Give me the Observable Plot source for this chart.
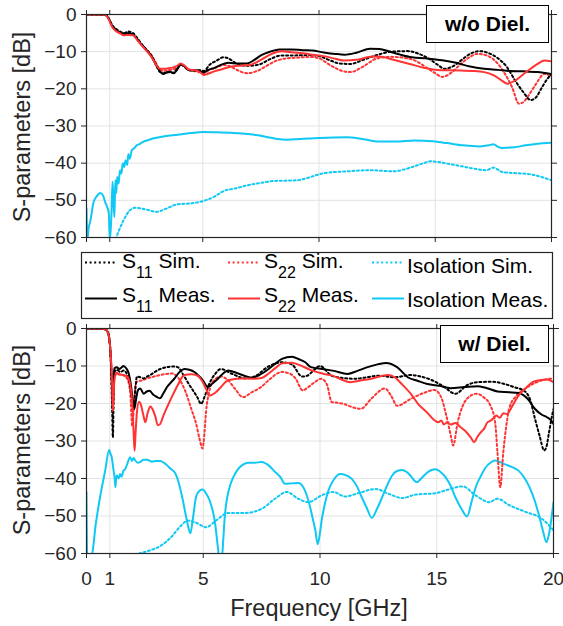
<!DOCTYPE html>
<html>
<head>
<meta charset="utf-8">
<script src="https://cdn.jsdelivr.net/npm/d3@7"></script>
<script src="https://cdn.jsdelivr.net/npm/@observablehq/plot@0.6"></script>
<style>
  body { margin: 0; background: #fff; }
  #wrap { position: relative; width: 563px; height: 626px; background: #fff;
          font-family: 'Liberation Sans', Arial, Helvetica, sans-serif; color: #262626; }
  .abs { position: absolute; }
  .tag { position: absolute; box-sizing: border-box; border: 1.5px solid #000; background: #fff;
         font-weight: bold; font-size: 21px; color: #000; display: flex; align-items: center; justify-content: center; }
  .ylab { position: absolute; font-size: 23.5px; white-space: nowrap; line-height: 1;
          transform: translate(-50%, -50%) rotate(-90deg); color: #262626; }
  .xlab { position: absolute; font-size: 23.5px; white-space: nowrap; line-height: 1;
          transform: translateX(-50%); color: #262626; }
</style>
</head>
<body>
<div id="wrap">
  <div id="topPanel" class="abs" style="left:0;top:0"></div>
  <div id="botPanel" class="abs" style="left:0;top:320px"></div>
  <div id="legend" class="abs" style="left:81px;top:252px"></div>
  <div class="tag" style="left:426px;top:5px;width:123px;height:38px">w/o Diel.</div>
  <div class="tag" style="left:440px;top:325px;width:109px;height:38px">w/ Diel.</div>
  <div class="ylab" style="left:23px;top:127px">S-parameters [dB]</div>
  <div class="ylab" style="left:23px;top:440px">S-parameters [dB]</div>
  <div class="xlab" style="left:319px;top:597px">Frequency [GHz]</div>
</div>
<script>
// ---------- tick values ----------
const xTicks = [0, 1, 5, 10, 15, 20];
const yTicks = [-60, -50, -40, -30, -20, -10, 0];

// ---------- series: [frequency GHz, dB] ----------
// Top panel: without dielectric
const topS11Sim = [[0,0],[0.5,0],[0.8,-0.1],[0.95,-1],[1.1,-2.8],[1.25,-3.8],[1.45,-4.6],[1.6,-5.0],[1.8,-4.6],[2.0,-5.0],[2.2,-6.5],[2.4,-8.2],[2.6,-9.6],[2.8,-11.2],[3.0,-13.8],[3.15,-15.4],[3.3,-15.8],[3.5,-15.5],[3.7,-15.7],[3.9,-14.6],[4.05,-13.4],[4.2,-14.0],[4.4,-14.9],[4.7,-15.0],[4.9,-15.0],[5.05,-15.2],[5.3,-13.5],[5.6,-12.4],[5.9,-11.5],[6.1,-11.8],[6.4,-13.0],[6.9,-13.8],[7.4,-13.5],[7.9,-12.0],[8.4,-11.0],[9.0,-11.0],[9.6,-10.9],[10.0,-11.2],[10.5,-12.4],[10.9,-13.2],[11.35,-13.3],[11.9,-12.2],[12.5,-10.9],[13.1,-10.0],[13.8,-9.85],[14.3,-10.6],[14.7,-11.8],[15.1,-13.5],[15.4,-14.6],[15.8,-13.8],[16.1,-12.4],[16.5,-10.6],[16.9,-9.85],[17.3,-10.4],[17.7,-11.8],[18.1,-14.3],[18.4,-17.4],[18.8,-21.0],[19.1,-23.0],[19.3,-22.5],[19.6,-19.5],[19.8,-17.5],[20,-16.1]];
const topS11Meas = [[0,0],[0.5,0],[0.8,-0.1],[0.95,-1],[1.1,-3],[1.25,-4],[1.45,-4.9],[1.6,-5.2],[1.8,-5.0],[2.0,-5.4],[2.2,-6.8],[2.4,-8.3],[2.6,-9.7],[2.8,-11.3],[3.0,-13.5],[3.15,-15.2],[3.3,-16.0],[3.45,-15.6],[3.6,-15.4],[3.75,-15.8],[3.9,-14.8],[4.05,-13.5],[4.2,-13.8],[4.35,-14.8],[4.55,-15.1],[4.75,-15.0],[4.9,-15.3],[5.05,-15.6],[5.2,-15.0],[5.5,-14.4],[5.8,-13.5],[6.1,-13.0],[6.5,-13.2],[6.9,-13.2],[7.2,-12.3],[7.5,-11.0],[7.9,-10.0],[8.3,-9.4],[8.8,-9.4],[9.3,-9.6],[9.7,-9.7],[10.2,-10.2],[10.7,-10.6],[11.1,-10.8],[11.6,-10.3],[12.2,-9.2],[12.6,-9.3],[13.0,-9.9],[13.5,-10.8],[14.0,-11.5],[14.6,-11.8],[15.3,-12.3],[15.9,-13.0],[16.5,-14.0],[17.1,-14.6],[17.7,-14.9],[18.2,-15.2],[18.8,-15.3],[19.4,-15.5],[20,-16.0]];
const topS22Sim = [[0,0],[0.5,0],[0.8,-0.1],[0.95,-1.1],[1.1,-3.1],[1.25,-4.2],[1.45,-5.0],[1.6,-5.4],[1.8,-5.2],[2.0,-5.3],[2.2,-6.7],[2.4,-8.3],[2.6,-9.6],[2.8,-11.0],[3.0,-13.2],[3.15,-14.8],[3.3,-15.2],[3.5,-15.0],[3.7,-14.8],[3.9,-14.2],[4.05,-13.5],[4.2,-13.9],[4.4,-14.8],[4.7,-15.3],[4.9,-15.6],[5.05,-15.8],[5.3,-14.8],[5.6,-14.2],[5.9,-13.6],[6.2,-14.0],[6.5,-15.0],[6.9,-15.8],[7.3,-15.3],[7.7,-14.0],[8.1,-12.6],[8.6,-11.8],[9.1,-11.6],[9.6,-11.4],[10.0,-11.8],[10.5,-13.7],[11.0,-15.2],[11.35,-15.5],[11.9,-14.0],[12.5,-11.8],[13.1,-11.4],[13.8,-11.8],[14.2,-12.6],[14.6,-14.2],[15.0,-15.8],[15.3,-16.8],[15.7,-15.6],[16.1,-13.3],[16.5,-11.4],[16.8,-10.6],[17.2,-11.0],[17.7,-13.3],[18.0,-16.0],[18.3,-19.5],[18.6,-24.0],[18.8,-23.5],[19.0,-21.9],[19.3,-19.0],[19.7,-16.0],[20,-16.8]];
const topS22Meas = [[0,0],[0.5,0],[0.8,-0.1],[0.95,-1.2],[1.1,-3.3],[1.25,-4.4],[1.45,-5.1],[1.6,-5.6],[1.8,-5.5],[2.0,-5.6],[2.2,-7.0],[2.4,-8.5],[2.6,-9.9],[2.8,-11.5],[3.0,-13.6],[3.15,-14.6],[3.3,-14.6],[3.5,-14.5],[3.7,-14.3],[3.85,-14.0],[4.05,-13.2],[4.2,-13.7],[4.4,-14.8],[4.7,-15.0],[4.9,-15.6],[5.05,-16.3],[5.2,-16.0],[5.5,-15.3],[5.8,-14.8],[6.1,-14.2],[6.5,-13.8],[7.0,-13.6],[7.5,-12.2],[8.0,-10.5],[8.4,-9.9],[8.9,-10.2],[9.3,-10.4],[9.7,-10.8],[10.2,-11.2],[10.7,-11.9],[11.1,-12.4],[11.6,-12.2],[12.2,-11.4],[12.6,-11.3],[13.2,-12.2],[13.9,-13.3],[14.5,-14.3],[15.1,-14.9],[15.6,-15.0],[16.1,-15.1],[16.6,-15.2],[17.1,-15.5],[17.5,-16.3],[17.8,-17.5],[18.1,-18.6],[18.5,-17.5],[18.8,-16.0],[19.1,-14.6],[19.4,-13.3],[19.7,-12.4],[20,-12.6]];
const topIsoSim = [[1.25,-60.5],[1.59,-55.4],[1.85,-52.8],[2.1,-52.0],[2.59,-52.5],[3.02,-53.1],[3.4,-52.3],[3.9,-51.1],[4.5,-50.8],[5.02,-50.2],[5.5,-49],[5.9,-47.5],[6.4,-46.8],[6.9,-46],[7.5,-45.3],[8.05,-44.8],[9.06,-44.6],[9.6,-43.8],[10.2,-42.7],[11.2,-42.2],[12.2,-41.9],[13.2,-42.2],[13.6,-41.8],[14.08,-40.9],[14.5,-40],[14.8,-39.5],[15.5,-40.1],[16.1,-40.8],[16.7,-41.5],[17.2,-41.9],[17.5,-41.2],[17.9,-42.4],[18.5,-42.7],[19.1,-43.0],[19.5,-43.6],[20,-44.6]];
const topIsoMeas = [[0,-52.2],[0.04,-60.5],[0.08,-58],[0.17,-55.4],[0.3,-50.6],[0.45,-48.8],[0.6,-48.0],[0.72,-48.8],[0.8,-50.4],[0.9,-52],[0.96,-53.5],[1.0,-60.5],[1.04,-58],[1.08,-52.7],[1.12,-45],[1.16,-50],[1.2,-54.5],[1.24,-44.6],[1.28,-48],[1.32,-43.7],[1.38,-45.5],[1.44,-41.9],[1.5,-42.8],[1.56,-40],[1.62,-41],[1.68,-39.2],[1.75,-40.5],[1.8,-37.5],[1.86,-38.8],[1.95,-36.5],[2.05,-36],[2.16,-35.2],[2.3,-34.8],[2.45,-34.2],[2.6,-33.9],[2.9,-33.3],[3.3,-32.8],[3.7,-32.5],[4.0,-32.3],[4.5,-31.9],[5.0,-31.6],[5.6,-31.7],[6.2,-31.8],[6.8,-32.1],[7.3,-32.4],[7.8,-33.0],[8.2,-33.5],[8.6,-33.7],[9.2,-33.5],[10.0,-33.2],[11.2,-33.0],[11.8,-33.4],[12.6,-34.2],[13.3,-34.2],[14.1,-33.9],[14.9,-34.1],[15.5,-34.6],[16.2,-35.2],[16.9,-35.5],[17.3,-35.2],[17.5,-34.9],[17.7,-35.6],[17.9,-35.9],[18.4,-35.7],[18.9,-35.2],[19.4,-34.8],[20,-34.5]];

// Bottom panel: with dielectric
const botS11Sim = [[0,0],[0.5,0],[0.8,-0.2],[0.9,-0.8],[0.97,-2.5],[1.02,-6],[1.06,-12],[1.1,-22],[1.13,-29],[1.16,-20],[1.2,-11.6],[1.3,-11.0],[1.45,-11.6],[1.6,-11.2],[1.75,-12.5],[1.87,-15.5],[1.95,-19],[2.02,-21],[2.08,-17],[2.16,-12.8],[2.3,-13.0],[2.45,-13.3],[2.6,-12.8],[2.73,-12.4],[2.95,-11.5],[3.16,-10.8],[3.45,-10.3],[3.7,-10.1],[3.9,-10.3],[4.19,-12.8],[4.4,-15],[4.55,-16.4],[4.75,-18.4],[4.91,-20.1],[5.05,-18.3],[5.26,-14.7],[5.5,-12.2],[5.76,-10.8],[6.2,-12.0],[6.8,-13.3],[7.2,-12.8],[7.8,-10.1],[8.37,-9.0],[8.8,-9.6],[9.23,-12.8],[9.45,-12.6],[9.66,-11.6],[10.0,-10.0],[10.5,-12.6],[11.0,-13.2],[11.5,-13.4],[12.0,-13.0],[12.5,-12.6],[13.2,-13.0],[13.9,-12.4],[14.3,-12.8],[14.8,-13.8],[15.3,-15.5],[15.8,-17.4],[16.3,-15.1],[16.8,-14.3],[17.4,-14.2],[17.9,-14.8],[18.3,-15.6],[18.8,-16.9],[19.0,-19],[19.2,-23.9],[19.4,-28.5],[19.6,-32.5],[19.7,-31.5],[19.8,-28],[19.95,-22.9],[20,-21.5]];
const botS11Meas = [[0,0],[0.5,0],[0.8,-0.2],[0.9,-0.8],[0.97,-2.5],[1.02,-5.5],[1.06,-10],[1.1,-17],[1.13,-21.5],[1.16,-14],[1.2,-10.6],[1.3,-10.3],[1.4,-10.8],[1.5,-10.4],[1.58,-10.0],[1.7,-10.6],[1.8,-11.8],[1.9,-15],[1.97,-18.5],[2.05,-21.4],[2.12,-19],[2.2,-16.5],[2.3,-16.0],[2.45,-17.4],[2.58,-16.8],[2.7,-16.6],[2.85,-17.6],[3.0,-18.2],[3.14,-18.6],[3.3,-17.2],[3.45,-15.6],[3.6,-14.5],[3.76,-13.4],[4.0,-11.5],[4.19,-10.8],[4.4,-11.0],[4.62,-11.6],[4.8,-12.6],[4.98,-13.8],[5.1,-15.0],[5.2,-15.6],[5.4,-14.6],[5.63,-13.4],[5.85,-12.0],[6.06,-11.2],[6.5,-12.0],[7.08,-13.1],[7.4,-12.4],[7.8,-10.8],[8.1,-9.3],[8.37,-8.1],[8.8,-7.5],[9.1,-8.2],[9.37,-9.0],[9.61,-10.3],[10.1,-10.8],[10.6,-11.3],[11.18,-12.1],[11.6,-11.3],[12.04,-10.3],[12.5,-9.5],[12.83,-9.2],[13.3,-10.3],[13.76,-13.0],[14.2,-14.0],[14.6,-14.8],[15.1,-15.3],[15.6,-15.9],[16.2,-15.6],[16.77,-15.4],[17.2,-16.0],[17.6,-16.8],[18.1,-17.0],[18.5,-17.2],[18.9,-18.8],[19.2,-21.4],[19.5,-23.0],[19.7,-23.6],[19.9,-24.5],[20,-25.5]];
const botS22Sim = [[0,0],[0.5,0],[0.8,-0.2],[0.9,-0.8],[0.97,-2.5],[1.02,-6],[1.06,-11],[1.1,-16],[1.14,-14],[1.2,-12.5],[1.35,-12.2],[1.58,-12.5],[1.75,-13.5],[1.87,-17],[1.96,-26],[2.02,-22],[2.1,-15],[2.16,-14.2],[2.4,-13.8],[2.6,-13.3],[2.9,-12.8],[3.16,-12.4],[3.66,-12.0],[3.85,-12.6],[4.04,-14.2],[4.25,-17],[4.48,-21.3],[4.7,-25.5],[4.84,-29.4],[4.97,-32],[5.05,-28],[5.12,-22.2],[5.25,-17],[5.4,-14.3],[5.76,-12.8],[6.06,-13.8],[6.35,-16],[6.7,-18.3],[7.08,-17],[7.5,-15.5],[7.8,-13.8],[8.37,-11.6],[8.7,-12],[8.95,-13.3],[9.26,-16.5],[9.5,-15.6],[9.8,-14.2],[10.05,-13.4],[10.3,-15],[10.5,-19.6],[10.75,-19.8],[11.0,-20.1],[11.4,-21],[11.75,-21.4],[12.2,-18.7],[12.78,-16],[13.05,-18],[13.3,-20.6],[13.9,-18.7],[14.4,-17.3],[14.9,-16.4],[15.2,-18.5],[15.4,-23],[15.6,-28.5],[15.7,-31.2],[15.9,-24.9],[16.3,-18.7],[16.7,-17.4],[17.0,-18.3],[17.3,-20.6],[17.5,-25],[17.6,-33],[17.72,-42.3],[17.85,-33],[18.0,-25],[18.1,-21.4],[18.4,-18],[18.7,-16.4],[19.3,-14.3],[19.9,-13.4],[20,-13.5]];
const botS22Meas = [[0,0],[0.5,0],[0.8,-0.2],[0.9,-0.8],[0.97,-2.5],[1.02,-5.5],[1.06,-9.5],[1.1,-15],[1.13,-22],[1.16,-18],[1.2,-13.5],[1.28,-11.8],[1.4,-12.2],[1.58,-12.4],[1.7,-12.6],[1.8,-13.3],[1.9,-16],[1.96,-20],[2.02,-28],[2.06,-32.6],[2.1,-28],[2.16,-22.3],[2.25,-19.5],[2.33,-20.3],[2.43,-23],[2.52,-25],[2.62,-22.5],[2.73,-20.8],[2.85,-21.8],[2.95,-23.5],[3.05,-25.8],[3.15,-25.5],[3.3,-23.1],[3.45,-21],[3.62,-18.7],[3.9,-15.2],[4.19,-12.4],[4.5,-12.2],[4.76,-12.6],[4.95,-14],[5.12,-16.1],[5.26,-17.9],[5.5,-17.2],[5.76,-15.6],[6.06,-13.8],[6.62,-13.3],[7.2,-13.4],[7.5,-13.2],[7.8,-12.0],[8.1,-10.5],[8.37,-9.3],[8.8,-9.1],[9.1,-9.7],[9.5,-10.8],[9.61,-11.1],[10.1,-12.0],[10.5,-12.5],[11.3,-14.3],[11.8,-13.8],[12.2,-13.4],[12.9,-12.4],[13.2,-13.0],[13.5,-14.8],[13.9,-17.5],[14.2,-20.1],[14.6,-22.5],[14.85,-24.2],[15.07,-25],[15.2,-24.5],[15.3,-25.6],[15.45,-25.0],[15.6,-25.6],[15.8,-25.2],[16.0,-26.2],[16.2,-27.2],[16.45,-29],[16.6,-30.3],[16.75,-28.8],[16.9,-27.6],[17.05,-26.5],[17.15,-25.2],[17.3,-24.6],[17.4,-24.1],[17.55,-23.2],[17.7,-23.8],[17.85,-22.6],[18.0,-22.8],[18.25,-20.5],[18.5,-17.9],[18.8,-16],[19.1,-14.3],[19.4,-13.8],[19.7,-13.6],[20,-14.3]];
const botIsoSim = [[1.87,-60.5],[2.37,-59.8],[2.8,-59],[3.16,-58],[3.6,-55.8],[4.03,-52.7],[4.33,-51.2],[4.69,-51.8],[5.12,-53],[5.55,-51.2],[6.06,-49.2],[6.77,-49.2],[7.5,-48.1],[8.07,-45.4],[8.58,-43.6],[9.07,-45.4],[9.5,-46.3],[10.07,-44.5],[10.57,-43.6],[11.07,-44.8],[11.65,-43.9],[12.37,-42.8],[12.94,-44.1],[13.52,-45.2],[14.09,-44.3],[14.95,-43.9],[15.52,-42.9],[16.1,-42.1],[16.67,-44.5],[17.25,-46.3],[17.6,-45.4],[18.1,-47.1],[18.8,-48.9],[19.5,-50.7],[20,-53.8]];
const botIsoMeas = [[0,-43.6],[0.03,-61],[0.22,-60.5],[0.4,-52],[0.58,-45],[0.8,-37.9],[0.97,-32.4],[1.03,-33.5],[1.08,-34.3],[1.12,-36],[1.16,-37.9],[1.2,-39.5],[1.24,-42.3],[1.27,-40],[1.3,-39.2],[1.37,-40],[1.44,-38.8],[1.5,-39.5],[1.58,-38],[1.66,-37.5],[1.75,-36],[1.87,-34.3],[1.95,-35.3],[2.02,-34.5],[2.09,-35.2],[2.2,-35.8],[2.3,-35.6],[2.45,-35.0],[2.59,-35.0],[2.8,-35.5],[3.0,-35.3],[3.16,-35.3],[3.4,-36.2],[3.6,-37.4],[3.8,-38.6],[3.9,-40.1],[4.1,-45],[4.3,-51.2],[4.45,-54.6],[4.55,-51],[4.69,-45],[4.85,-43.2],[4.98,-42.9],[5.12,-44],[5.27,-45.8],[5.4,-48.5],[5.49,-51.2],[5.63,-58.5],[5.68,-61],[5.8,-61],[5.86,-56],[5.92,-50.3],[6.13,-42.3],[6.3,-39.5],[6.49,-37.5],[6.7,-36.3],[6.92,-35.8],[7.2,-35.8],[7.5,-35.6],[7.8,-36.5],[8.07,-38.2],[8.3,-39.6],[8.5,-41.4],[8.8,-41.3],[9.07,-41.2],[9.3,-42.5],[9.5,-45.8],[9.7,-51],[9.8,-53.8],[9.9,-57.5],[10.0,-54.5],[10.07,-51.2],[10.2,-47],[10.36,-43.2],[10.6,-40.2],[10.86,-38.8],[11.1,-39.1],[11.36,-40.1],[11.6,-42.3],[11.79,-45],[12.0,-47.8],[12.22,-50.5],[12.45,-48],[12.66,-45],[12.9,-41.5],[13.09,-39.2],[13.3,-38.0],[13.52,-37.7],[13.7,-38.2],[13.87,-39.2],[14.05,-40.6],[14.16,-41],[14.3,-40.2],[14.52,-38.8],[14.75,-37.8],[14.95,-37.5],[15.15,-38.2],[15.38,-39.7],[15.6,-42],[15.8,-45],[16.05,-48],[16.3,-50.1],[16.5,-46],[16.67,-42.3],[16.9,-39.2],[17.1,-37],[17.3,-35.8],[17.5,-35.2],[17.7,-35.6],[17.96,-36.3],[18.2,-36.9],[18.5,-37.9],[18.75,-39.8],[18.97,-42.3],[19.2,-46],[19.4,-50.3],[19.55,-54],[19.7,-57],[19.8,-55],[19.9,-51.2],[20,-46.3]];

// ---------- styling ----------
const BLACK = "#000000", RED = "#ff3333", CYAN = "#10c8f4";
const DOT = "2,2.6";
const FONT = "'Liberation Sans', Arial, Helvetica, sans-serif";

function seriesMarks(list) {
  return list.map(([data, color, dotted]) => Plot.line(data, {
    x: d => d[0], y: d => d[1], stroke: color, strokeWidth: 2,
    strokeDasharray: dotted ? DOT : null, curve: "monotone-x", clip: true
  }));
}

function panel(list, height, mt, mb, mr, showX) {
  return Plot.plot({
    width: 563, height, marginTop: mt, marginBottom: mb, marginLeft: 86, marginRight: mr,
    x: {domain: [0, 20]}, y: {domain: [-60, 0]},
    style: {fontFamily: FONT, fontSize: "19px", color: "#262626", background: "transparent", overflow: "visible"},
    marks: [
      Plot.gridX(xTicks, {stroke: "#e3e3e3", strokeOpacity: 1, strokeWidth: 1}),
      Plot.gridY(yTicks, {stroke: "#e3e3e3", strokeOpacity: 1, strokeWidth: 1}),
      ...seriesMarks(list),
      Plot.frame({stroke: "#262626", strokeWidth: 1.2}),
      Plot.axisX(xTicks, {anchor: "bottom", tickSize: 5, tickPadding: 13, label: null,
        tickFormat: showX ? (d => String(d)) : (() => ""), fontSize: 19}),
      Plot.axisX(xTicks, {anchor: "top", tickSize: 5, label: null, tickFormat: () => ""}),
      Plot.axisY(yTicks, {anchor: "left", tickSize: 5, tickPadding: 5, label: null, fontSize: 19}),
      Plot.axisY(yTicks, {anchor: "right", tickSize: 5, label: null, tickFormat: () => ""})
    ]
  });
}

const topList = [
  [topIsoSim, CYAN, true], [topIsoMeas, CYAN, false],
  [topS22Sim, RED, true], [topS11Sim, BLACK, true],
  [topS11Meas, BLACK, false], [topS22Meas, RED, false]
];
const botList = [
  [botIsoSim, CYAN, true], [botIsoMeas, CYAN, false],
  [botS22Sim, RED, true], [botS11Sim, BLACK, true],
  [botS11Meas, BLACK, false], [botS22Meas, RED, false]
];

document.getElementById("topPanel").append(panel(topList, 252, 14, 15, 12, false));
document.getElementById("botPanel").append(panel(botList, 306, 8, 73, 10, true));

// ---------- legend ----------
const legendEntries = [
  {name: "S", sub: "11", tail: " Sim.", color: BLACK, dotted: true},
  {name: "S", sub: "22", tail: " Sim.", color: RED, dotted: true},
  {name: "Isolation Sim.", sub: null, tail: "", color: CYAN, dotted: true},
  {name: "S", sub: "11", tail: " Meas.", color: BLACK, dotted: false},
  {name: "S", sub: "22", tail: " Meas.", color: RED, dotted: false},
  {name: "Isolation Meas.", sub: null, tail: "", color: CYAN, dotted: false}
];
(function buildLegend() {
  const W = 472, H = 67;
  const colLine = [4, 147, 291], colText = [41, 183, 326];
  const rowLine = [10.5, 46.5];
  const rowBase = [16.3, 49.7];
  const svg = d3.create("svg").attr("width", W).attr("height", H)
    .style("font-family", FONT).style("overflow", "visible");
  svg.append("rect").attr("x", 0.5).attr("y", 0.5).attr("width", W - 1).attr("height", H - 1)
    .attr("fill", "#fff").attr("stroke", "#262626").attr("stroke-width", 1.2);
  legendEntries.forEach((e, i) => {
    const c = i % 3, r = Math.floor(i / 3);
    svg.append("line").attr("x1", colLine[c]).attr("x2", colLine[c] + 32)
      .attr("y1", rowLine[r]).attr("y2", rowLine[r])
      .attr("stroke", e.color).attr("stroke-width", 2)
      .attr("stroke-dasharray", e.dotted ? DOT : null);
    const t = svg.append("text").attr("x", colText[c]).attr("fill", "#000").attr("font-size", 21);
    if (e.sub) {
      t.attr("y", rowBase[r]);
      t.append("tspan").text(e.name);
      t.append("tspan").attr("dy", 10).attr("font-size", 16).text(e.sub);
      t.append("tspan").attr("dy", -10).text(e.tail);
    } else {
      t.attr("y", rowBase[r] + 5).text(e.name);
    }
  });
  document.getElementById("legend").append(svg.node());
})();
</script>
</body>
</html>
